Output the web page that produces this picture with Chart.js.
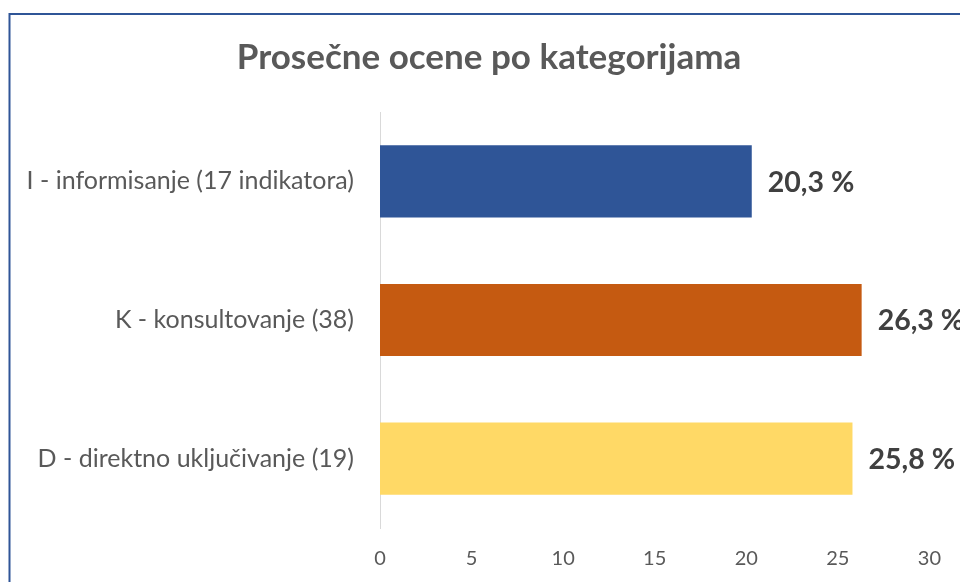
<!DOCTYPE html>
<html><head><meta charset="utf-8">
<script src="https://cdn.jsdelivr.net/npm/chart.js@4"></script>
<style>html,body{margin:0;padding:0;background:#fff;overflow:hidden}</style>
</head><body>
<canvas id="c" width="960" height="582"></canvas>
<script>
const titleText = "Prosečne ocene po kategorijama";
const categories = ["I - informisanje (17 indikatora)", "K - konsultovanje (38)", "D - direktno uključivanje (19)"];
const values = [20.3, 26.3, 25.8];
const valueLabels = ["20,3 %", "26,3 %", "25,8 %"];
const barColors = ["#2F5597", "#C55A11", "#FFD966"];
const xMin = 0, xMax = 30, xStep = 5;

const FONT = "Lato";

const framePlugin = {
  id: 'frame',
  beforeDraw(chart) {
    const ctx = chart.ctx;
    ctx.save();
    ctx.fillStyle = '#fff';
    ctx.fillRect(0, 0, chart.width, chart.height);
    ctx.strokeStyle = '#2F5597';
    ctx.lineWidth = 2;
    ctx.strokeRect(9.5, 14, 1200, 1200);
    ctx.fillStyle = '#595959';
    ctx.font = 'bold 35px ' + FONT;
    ctx.textAlign = 'center';
    ctx.textBaseline = 'middle';
    ctx.fillText(titleText, 489, 58);
    ctx.restore();
  }
};

const valueLabelPlugin = {
  id: 'valueLabels',
  afterDatasetsDraw(chart) {
    const ctx = chart.ctx;
    const meta = chart.getDatasetMeta(0);
    ctx.save();
    ctx.fillStyle = '#404040';
    ctx.font = 'bold 28.5px ' + FONT;
    ctx.textAlign = 'left';
    ctx.textBaseline = 'middle';
    meta.data.forEach((bar, i) => {
      ctx.fillText(valueLabels[i], bar.x + 16, bar.y + 1);
    });
    ctx.restore();
  }
};

new Chart(document.getElementById('c'), {
  type: 'bar',
  data: {
    labels: categories,
    datasets: [{
      data: values,
      backgroundColor: barColors,
      borderWidth: 0,
      categoryPercentage: 1,
      barPercentage: 0.52
    }]
  },
  options: {
    indexAxis: 'y',
    responsive: false,
    animation: false,
    devicePixelRatio: 1,
    layout: { padding: { top: 112, right: 30, left: 0, bottom: 0 } },
    plugins: { legend: { display: false }, title: { display: false }, tooltip: { enabled: false } },
    scales: {
      x: {
        min: xMin, max: xMax,
        ticks: { stepSize: xStep, color: '#595959', font: { family: FONT, size: 20 }, padding: 19, maxRotation: 0 },
        grid: { display: false, drawTicks: false },
        border: { display: false },
        afterFit(s) { s.height = 54; }
      },
      y: {
        ticks: { color: '#595959', font: { family: FONT, size: 25 }, padding: 26 },
        grid: { display: false, drawTicks: false },
        border: { display: true, color: '#D9D9D9', width: 1 },
        afterFit(s) { s.width = 380; }
      }
    }
  },
  plugins: [framePlugin, valueLabelPlugin]
});
</script>
</body></html>
